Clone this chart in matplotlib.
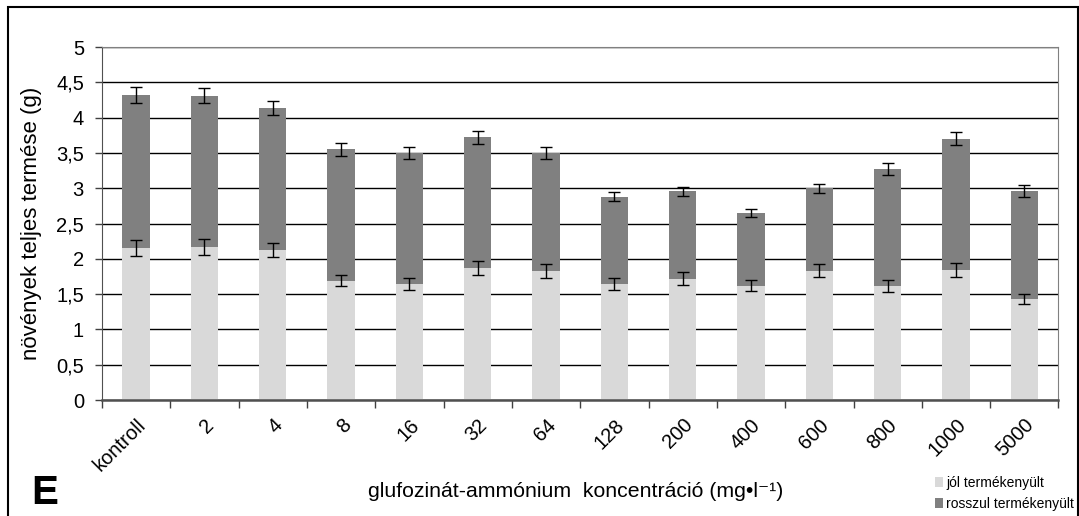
import numpy as np
import matplotlib
matplotlib.use('Agg')
import matplotlib.pyplot as plt
from matplotlib.patches import Rectangle
from matplotlib.ticker import FixedLocator, FuncFormatter

plt.rcParams['font.family'] = ['Liberation Sans', 'DejaVu Sans']

labels = ['kontroll', '2', '4', '8', '16', '32', '64', '128', '200', '400',
          '600', '800', '1000', '5000']
# jól termékenyült (light) and total height
jol = [2.15, 2.17, 2.13, 1.69, 1.65, 1.87, 1.83, 1.64, 1.72, 1.62, 1.83, 1.61, 1.84, 1.43]
total = [4.32, 4.31, 4.14, 3.55, 3.50, 3.72, 3.50, 2.88, 2.96, 2.65, 3.00, 3.27, 3.70, 2.96]
jol_err = [0.11, 0.11, 0.10, 0.075, 0.085, 0.095, 0.095, 0.087, 0.087, 0.075, 0.092, 0.083, 0.094, 0.068]
total_err = [0.11, 0.11, 0.10, 0.09, 0.085, 0.09, 0.08, 0.064, 0.064, 0.057, 0.064, 0.08, 0.094, 0.08]

rossz = np.array(total) - np.array(jol)
x_pos = np.arange(len(labels))
width = 0.4

fig = plt.figure(figsize=(10.79, 5.16), dpi=100)
ax = fig.add_axes([0.0945, 0.2248, 0.8865, 0.6841])

ax.bar(x_pos, jol, width, color='#d9d9d9', label='jól termékenyült', zorder=2)
ax.bar(x_pos, rossz, width, bottom=jol, color='#808080', label='rosszul termékenyült', zorder=2)
ax.errorbar(x_pos, jol, yerr=jol_err, fmt='none', ecolor='black', elinewidth=1,
            capsize=4.5, capthick=1, zorder=3)
ax.errorbar(x_pos, total, yerr=total_err, fmt='none', ecolor='black', elinewidth=1,
            capsize=4.5, capthick=1, zorder=3)

ax.set_xlim(-0.5, len(labels) - 0.5)
ax.set_ylim(0, 5)
ax.set_yticks(np.arange(0, 5.01, 0.5))
ax.yaxis.set_major_formatter(FuncFormatter(lambda v, p: ('%g' % v).replace('.', ',')))
ax.yaxis.grid(True, color='black', linewidth=1)
ax.set_axisbelow(True)

ax.set_xticks(x_pos)
ax.set_xticklabels(labels, rotation=45, ha='right', va='top', rotation_mode='anchor', fontsize=14.5)
ax.tick_params(axis='x', which='major', length=0, pad=11)
ax.xaxis.set_minor_locator(FixedLocator(np.arange(-0.5, len(labels), 1)))
ax.tick_params(axis='x', which='minor', length=6, width=1, color='#404040', direction='out')
ax.tick_params(axis='y', length=5, width=1, color='#404040', labelsize=14.5, pad=8)

for s in ['left', 'bottom']:
    ax.spines[s].set_color('#505050')
ax.spines['bottom'].set_linewidth(1.8)
ax.spines['right'].set_color('#808080')
ax.spines['top'].set_color('#808080')

ax.set_ylabel('növények teljes termése (g)', fontsize=16)
ax.yaxis.set_label_coords(-0.063, 0.5)
fig.text(0.534, 0.047, 'glufozinát-ammónium  koncentráció (mg•l⁻¹)', fontsize=15.3,
         ha='center', va='center')
fig.text(0.029, 0.044, 'E', fontsize=29, fontweight='bold', ha='left', va='center')

h, l = ax.get_legend_handles_labels()
fig.legend(h, l, loc='upper right', bbox_to_anchor=(1074 / 1079, 1 - 476 / 516), frameon=False,
           fontsize=10, handlelength=0.6, handleheight=0.7, handletextpad=0.2,
           labelspacing=0.5, borderpad=0, borderaxespad=0)

fig.add_artist(Rectangle((8 / 1079, -0.01), 1070 / 1079, 1 - 7 / 516 + 0.01,
                         transform=fig.transFigure, fill=False, edgecolor='black', linewidth=1.5))

fig.savefig('out.png', dpi=100)
